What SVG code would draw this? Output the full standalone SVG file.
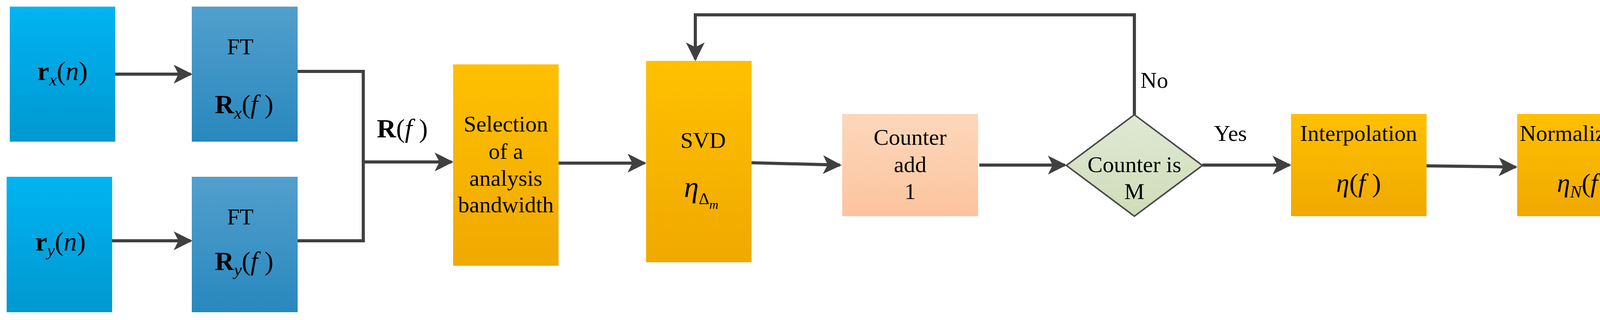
<svg xmlns="http://www.w3.org/2000/svg" width="4252" height="820" viewBox="0 0 4252 820">
<defs>
<linearGradient id="gIn" x1="0" y1="0" x2="0" y2="1"><stop offset="0" stop-color="#00b4f2"/><stop offset="1" stop-color="#0098d0"/></linearGradient>
<linearGradient id="gFt" x1="0" y1="0" x2="0" y2="1"><stop offset="0" stop-color="#529fcc"/><stop offset="1" stop-color="#2888be"/></linearGradient>
<linearGradient id="gOr" x1="0" y1="0" x2="0" y2="1"><stop offset="0" stop-color="#ffc000"/><stop offset="1" stop-color="#f0a900"/></linearGradient>
<linearGradient id="gCo" x1="0" y1="0" x2="0" y2="1"><stop offset="0" stop-color="#fdd7bb"/><stop offset="1" stop-color="#fcc49e"/></linearGradient>
<linearGradient id="gDi" x1="0" y1="0" x2="0" y2="1"><stop offset="0" stop-color="#e0e9d4"/><stop offset="1" stop-color="#cfdcb8"/></linearGradient>
<marker id="ah" viewBox="0 0 10 10" refX="9" refY="5" markerWidth="6" markerHeight="6" markerUnits="strokeWidth" orient="auto"><path d="M0,0 L10,5 L0,10 L2.5,5 Z" fill="#404040"/></marker>
</defs>
<style>
text{font-family:"Liberation Serif","Times New Roman",serif;fill:#000;text-anchor:middle}
.t{font-size:58px}
.m{font-size:68px}
.c{stroke:#404040;stroke-width:8;fill:none}
</style>
<g id="connectors">
<path class="c" d="M295,190 H488" marker-end="url(#ah)"/>
<path class="c" d="M287,617 H488" marker-end="url(#ah)"/>
<path class="c" d="M762,183 H930 V617 H762"/>
<path class="c" d="M930,415 H1156" marker-end="url(#ah)"/>
<path class="c" d="M1430,418 H1650" marker-end="url(#ah)"/>
<path class="c" d="M1924,417 L2150,423" marker-end="url(#ah)"/>
<path class="c" d="M2507,423 H2726" marker-end="url(#ah)"/>
<path class="c" d="M2904,294 V38 H1780 V152" marker-end="url(#ah)"/>
<path class="c" d="M3078,423 H3301" marker-end="url(#ah)"/>
<path class="c" d="M3652,425 L3880,428" marker-end="url(#ah)"/>
<text class="t" x="2955" y="225">No</text>
<text class="t" x="3150" y="361">Yes</text>
<text class="m" x="1030" y="352"><tspan font-weight="bold">R</tspan>(<tspan font-style="italic">f</tspan> )</text>
</g>
<g id="rx"><rect x="25" y="17" width="270" height="346" fill="url(#gIn)"/>
<text class="m" x="160" y="205"><tspan font-weight="bold">r</tspan><tspan font-style="italic" font-size="44" dy="14">x</tspan><tspan dy="-14">(</tspan><tspan font-style="italic">n</tspan>)</text></g>
<g id="ry"><rect x="17" y="453" width="270" height="347" fill="url(#gIn)"/>
<text class="m" x="155" y="642"><tspan font-weight="bold">r</tspan><tspan font-style="italic" font-size="44" dy="14">y</tspan><tspan dy="-14">(</tspan><tspan font-style="italic">n</tspan>)</text></g>
<g id="ftx"><rect x="491" y="17" width="271" height="346" fill="url(#gFt)"/>
<text class="t" x="615" y="139" font-size="64">FT</text>
<text class="m" x="625" y="290"><tspan font-weight="bold">R</tspan><tspan font-style="italic" font-size="44" dy="14">x</tspan><tspan dy="-14">(</tspan><tspan font-style="italic">f</tspan> )</text></g>
<g id="fty"><rect x="491" y="453" width="271" height="347" fill="url(#gFt)"/>
<text class="t" x="615" y="575" font-size="64">FT</text>
<text class="m" x="625" y="692"><tspan font-weight="bold">R</tspan><tspan font-style="italic" font-size="44" dy="14">y</tspan><tspan dy="-14">(</tspan><tspan font-style="italic">f</tspan> )</text></g>
<g id="sel"><rect x="1160" y="165" width="270" height="516" fill="url(#gOr)"/>
<text class="t" x="1295" y="337">Selection</text><text class="t" x="1295" y="407">of a</text><text class="t" x="1295" y="476">analysis</text><text class="t" x="1295" y="544">bandwidth</text></g>
<g id="svd"><rect x="1654" y="156" width="270" height="516" fill="url(#gOr)"/>
<text class="t" x="1800" y="379">SVD</text>
<text x="1795" y="505" font-size="76"><tspan font-style="italic">η</tspan><tspan font-size="42" dy="18">Δ</tspan><tspan font-size="32" font-style="italic" dy="12">m</tspan></text></g>
<g id="counter"><rect x="2156" y="292" width="348" height="262" fill="url(#gCo)"/>
<text class="t" x="2330" y="371">Counter</text><text class="t" x="2330" y="441">add</text><text class="t" x="2330" y="510">1</text></g>
<g id="decision"><polygon points="2904,294 3078,424 2904,554 2730,424" fill="url(#gDi)" stroke="#4a4a4a" stroke-width="4"/>
<text class="t" x="2904" y="441">Counter is</text><text class="t" x="2904" y="510">M</text></g>
<g id="interp"><rect x="3305" y="292" width="347" height="262" fill="url(#gOr)"/>
<text class="t" x="3478" y="361">Interpolation</text>
<text class="m" x="3478" y="492"><tspan font-style="italic">η</tspan>(<tspan font-style="italic">f</tspan> )</text></g>
<g id="norm"><rect x="3884" y="292" width="348" height="262" fill="url(#gOr)"/>
<text class="t" x="4058" y="361" font-size="56">Normalization</text>
<text class="m" x="4058" y="492"><tspan font-style="italic">η</tspan><tspan font-style="italic" font-size="44" dy="14">N</tspan><tspan dy="-14">(</tspan><tspan font-style="italic">f</tspan> )</text></g>
</svg>
